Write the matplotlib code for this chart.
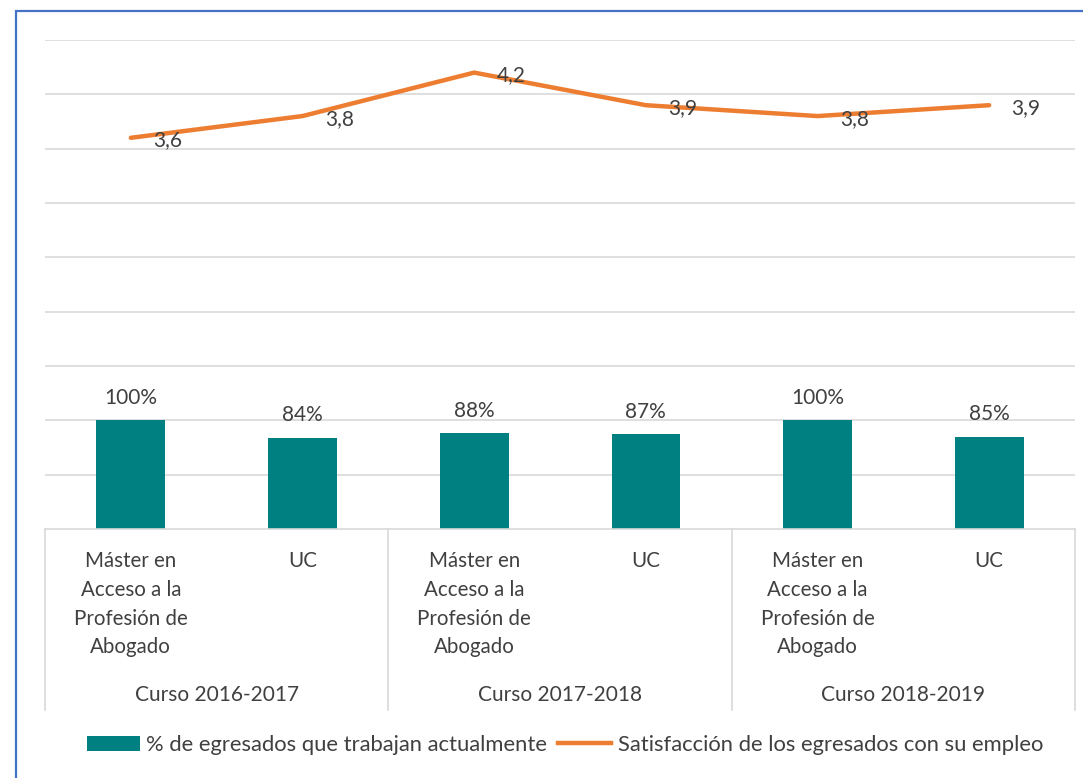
import matplotlib
matplotlib.use("Agg")
import matplotlib.pyplot as plt
from matplotlib.lines import Line2D
from matplotlib.patches import Patch, Rectangle

plt.rcParams['font.family'] = ['Lato', 'DejaVu Sans']

categories = ["Máster en\nAcceso a la\nProfesión de\nAbogado", "UC"] * 3
groups = ["Curso 2016-2017", "Curso 2017-2018", "Curso 2018-2019"]
pct_working = [1.00, 0.84, 0.88, 0.87, 1.00, 0.85]
pct_labels = ["100%", "84%", "88%", "87%", "100%", "85%"]
satisfaction = [3.6, 3.8, 4.2, 3.9, 3.8, 3.9]
sat_labels = ["3,6", "3,8", "4,2", "3,9", "3,8", "3,9"]

bar_name = "% de egresados que trabajan actualmente"
line_name = "Satisfacción de los egresados con su empleo"

teal = "#008080"
orange = "#ED7D31"
txt = "#404040"
grid = "#D9D9D9"

W, H = 1083, 778
fig = plt.figure(figsize=(W / 100, H / 100), dpi=100)
ax = fig.add_axes([45 / W, 1 - 529 / H, (1075 - 45) / W, (529 - 40) / H])
AH = 529 - 40

x = list(range(len(categories)))
ax.bar(x, pct_working, width=0.4, color=teal, zorder=2)
ax.plot(x, satisfaction, color=orange, lw=3.2, solid_capstyle='round',
        solid_joinstyle='round', zorder=3)

for xi, v, lab in zip(x, pct_working, pct_labels):
    ax.annotate(lab, (xi, v), xytext=(0, 9), textcoords='offset points',
                ha='center', va='bottom', fontsize=15, color=txt)
for xi, v, lab in zip(x, satisfaction, sat_labels):
    ax.annotate(lab, (xi, v), xytext=(16, -2), textcoords='offset points',
                ha='left', va='center', fontsize=15, color=txt, zorder=4)

ax.set_xlim(-0.5, len(categories) - 0.5)
ax.set_ylim(0, 4.5)
ax.set_yticks([i * 0.5 for i in range(1, 10)])
ax.yaxis.grid(True, color=grid, lw=1.2, zorder=0)
ax.tick_params(axis='y', left=False, labelleft=False)
ax.tick_params(axis='x', bottom=False, labelbottom=False)
for s in ['top', 'right', 'left']:
    ax.spines[s].set_visible(False)
ax.spines['bottom'].set_color(grid)
ax.spines['bottom'].set_linewidth(1.2)

xt = ax.get_xaxis_transform()
for xi, lab in zip(x, categories):
    ax.text(xi, -(551 - 529) / AH, lab, transform=xt, ha='center', va='top',
            fontsize=14.8, color=txt, linespacing=1.55)

for gi, g in enumerate(groups):
    ax.text(gi * 2 + 0.5, -(695 - 529) / AH, g, transform=xt,
            ha='center', va='center', fontsize=15, color=txt)

sep_bottom = -(710 - 529) / AH
for sx in [-0.5, 1.5, 3.5, 5.5]:
    ax.add_line(Line2D([sx, sx], [0, sep_bottom], transform=xt,
                       color=grid, lw=1.2, clip_on=False))

handles = [Patch(facecolor=teal, edgecolor='none', label=bar_name),
           Line2D([0], [0], color=orange, lw=3.2, label=line_name)]
fig.legend(handles=handles, loc='center', bbox_to_anchor=(565 / W, 1 - 745 / H),
           ncol=2, frameon=False, fontsize=15.8, labelcolor=txt,
           handlelength=2.4, handleheight=0.7, handletextpad=0.3, columnspacing=0.5)

fig.add_artist(Rectangle((16 / W, -0.05), 1.2, 1 - 11 / H + 0.05, transform=fig.transFigure,
                         fill=False, edgecolor="#4472C4", lw=1.6))

fig.savefig("out.png", dpi=100)
